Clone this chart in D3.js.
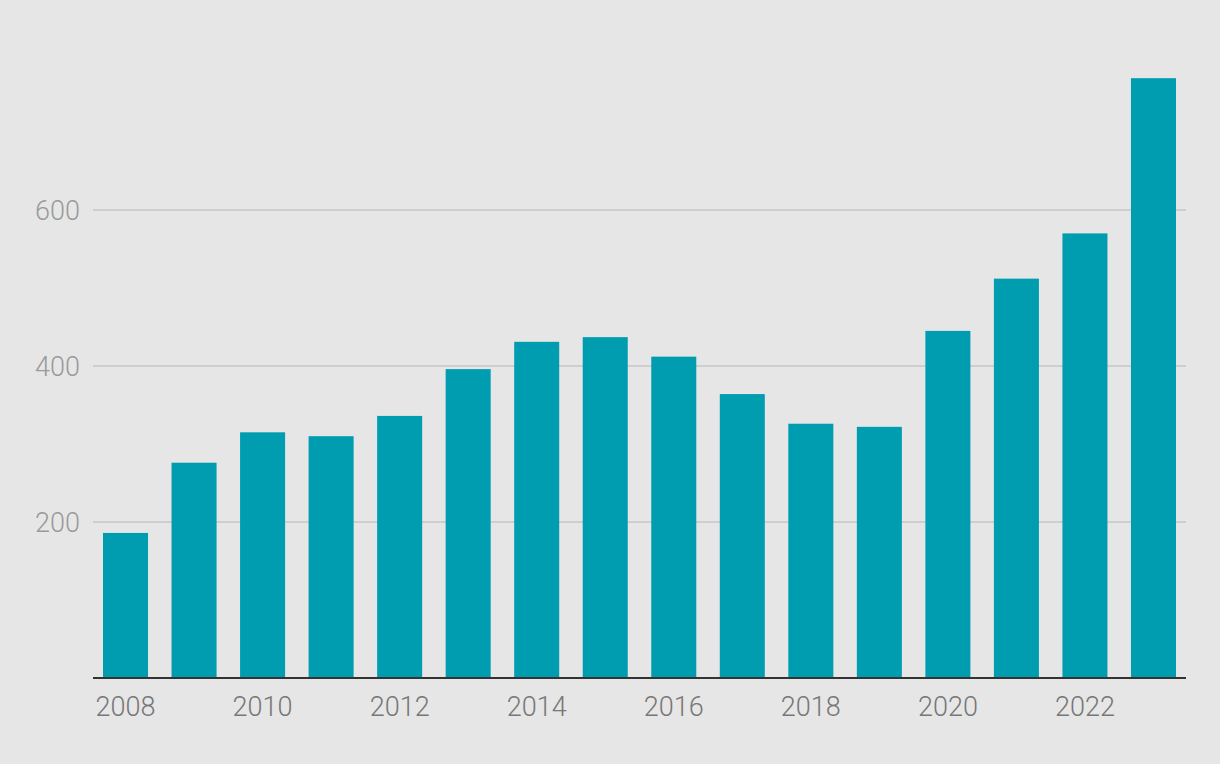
<!DOCTYPE html>
<html>
<head>
<meta charset="utf-8">
<script src="https://cdn.jsdelivr.net/npm/d3@7"></script>
<style>
  html, body { margin: 0; padding: 0; background: #e6e6e6; }
  svg { display: block; }
  text { font-family: Roboto, "Liberation Sans", sans-serif; font-weight: 300; }
</style>
</head>
<body>
<svg id="chart" width="1220" height="764"></svg>
<script>
const years = [2008, 2009, 2010, 2011, 2012, 2013, 2014, 2015, 2016, 2017, 2018, 2019, 2020, 2021, 2022, 2023];
const values = [186, 276, 315, 310, 336, 396, 431, 437, 412, 364, 326, 322, 445, 512, 570, 769];
const yTicks = [200, 400, 600];
const xTickLabels = [2008, 2010, 2012, 2014, 2016, 2018, 2020, 2022];

const svg = d3.select("#chart");
const W = 1220, H = 764;
svg.append("rect").attr("width", W).attr("height", H).attr("fill", "#e6e6e6");

const x = d3.scaleBand()
  .domain(years)
  .range([93, 1186])
  .paddingInner(0.343)
  .paddingOuter(0.146);

const y = d3.scaleLinear().domain([0, 600]).range([678, 210]);

// gridlines
svg.append("g").selectAll("line")
  .data(yTicks).join("line")
  .attr("x1", 93).attr("x2", 1186)
  .attr("y1", d => y(d)).attr("y2", d => y(d))
  .attr("stroke", "#cecece").attr("stroke-width", 2);

// y labels
svg.append("g").selectAll("text")
  .data(yTicks).join("text")
  .attr("x", 80).attr("y", d => y(d))
  .attr("text-anchor", "end")
  .attr("dominant-baseline", "central")
  .attr("font-size", 28)
  .attr("textLength", 45)
  .attr("lengthAdjust", "spacingAndGlyphs")
  .attr("fill", "#9a9a9a")
  .text(d => d);

// bars
svg.append("g").selectAll("rect")
  .data(years).join("rect")
  .attr("x", d => x(d))
  .attr("width", x.bandwidth())
  .attr("y", (d, i) => y(values[i]))
  .attr("height", (d, i) => y(0) - y(values[i]))
  .attr("fill", "#009db0");

// baseline
svg.append("line")
  .attr("x1", 93).attr("x2", 1186)
  .attr("y1", y(0)).attr("y2", y(0))
  .attr("stroke", "#333").attr("stroke-width", 2);

// x labels
svg.append("g").selectAll("text")
  .data(xTickLabels).join("text")
  .attr("x", d => x(d) + x.bandwidth() / 2)
  .attr("y", 716)
  .attr("text-anchor", "middle")
  .attr("font-size", 28)
  .attr("textLength", 60)
  .attr("lengthAdjust", "spacingAndGlyphs")
  .attr("fill", "#777")
  .text(d => d);
</script>
</body>
</html>
